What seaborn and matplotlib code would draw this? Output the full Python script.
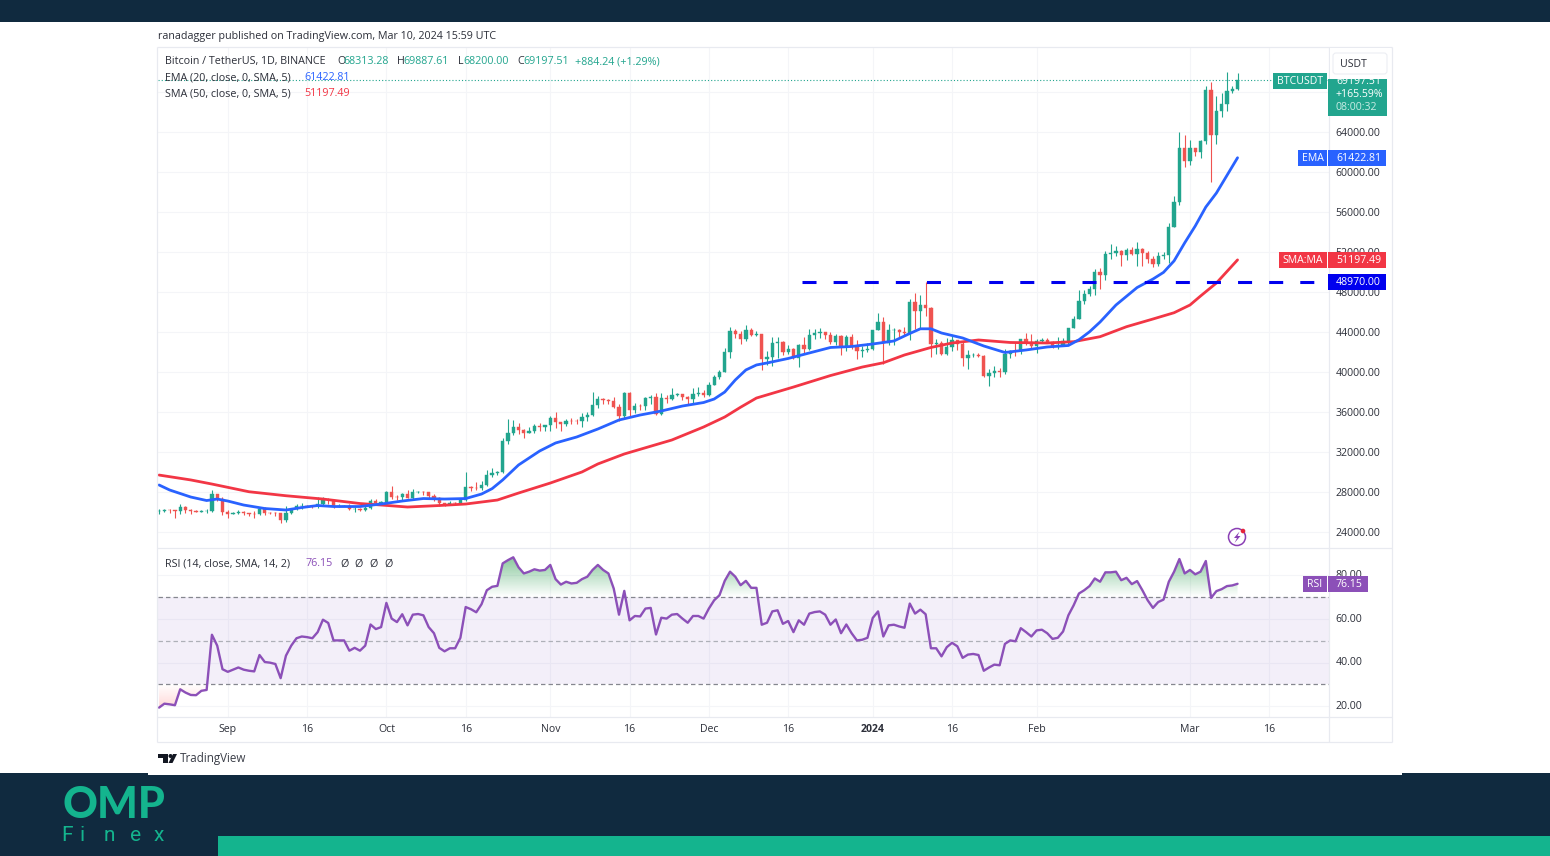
import numpy as np
import pandas as pd
import seaborn as sns
import matplotlib.pyplot as plt
from matplotlib.patches import Rectangle, Circle, Polygon, FancyBboxPatch
from matplotlib.path import Path
from matplotlib.transforms import ScaledTranslation

# daily candles, Aug 19 2023 to Mar 10 2024. day 0 is Sep 1
days = list(range(-13, 192))

opens = [
    26048, 26096, 26189, 26124, 26040, 26431, 26163, 26049, 26004, 26089, 26106, 27727, 27301,
    25940, 25805, 25869, 25971, 25826, 25792, 25759, 26255, 25910, 25901, 25841, 25162, 25840, 26228, 26539,
    26608, 26568, 26530, 26754, 27211, 27133, 26567, 26579, 26579, 26256, 26298, 26207, 26352, 27021, 26906,
    26962, 27983, 27494, 27426, 27778, 27412, 27931, 27956, 27917, 27590, 27390, 26875, 26756, 26862, 26852,
    27154, 28500, 28395, 28320, 28713, 29674, 29909, 29992, 33086, 33901, 34502, 34156, 33909, 34089, 34538,
    34484, 34639, 35421, 34938, 34732, 35082, 35048, 35037, 35443, 35655, 36693, 37313, 37138, 37054, 36502,
    35537, 37880, 36154, 36596, 36568, 37359, 37448, 35741, 37408, 37294, 37713, 37780, 37447, 37242, 37818,
    37854, 37712, 38688, 39476, 39978, 41980, 44080, 43769, 43292, 44170, 43713, 43789, 41253, 41492, 42869,
    43022, 41941, 42278, 41374, 42657, 42275, 43668, 43861, 43970, 43703, 43016, 43613, 42520, 43442, 42581,
    42066, 42140, 42283, 44179, 44946, 42845, 44151, 44162, 43958, 43929, 46951, 46110, 46653, 46339, 42782,
    42847, 41732, 42511, 43137, 42776, 41327, 41659, 41696, 41580, 39568, 39897, 40084, 39961, 41816, 42120,
    42031, 43302, 42941, 42580, 43082, 43200, 43011, 42582, 42708, 43098, 44349, 45288, 47132, 47751, 48293,
    49958, 49699, 51795, 51913, 52126, 51646, 52138, 51765, 52258, 51849, 51288, 50744, 51568, 51729, 54476,
    57037, 62432, 61130, 62387, 61987, 63113, 68245, 63724, 66074, 66823, 68124, 68313,
]
closes = [
    26096, 26189, 26124, 26040, 26431, 26163, 26049, 26004, 26089, 26106, 27727, 27301, 25940,
    25805, 25869, 25971, 25826, 25792, 25759, 26255, 25910, 25901, 25841, 25162, 25840, 26228, 26539, 26608,
    26568, 26530, 26754, 27211, 27133, 26567, 26579, 26579, 26256, 26298, 26207, 26352, 27021, 26906, 26962,
    27983, 27494, 27426, 27778, 27412, 27931, 27956, 27917, 27590, 27390, 26875, 26756, 26862, 26852, 27154,
    28500, 28395, 28320, 28713, 29674, 29909, 29992, 33086, 33901, 34502, 34156, 33909, 34089, 34538, 34484,
    34639, 35421, 34938, 34732, 35082, 35048, 35037, 35443, 35655, 36693, 37313, 37138, 37054, 36502, 35537,
    37880, 36154, 36596, 36568, 37359, 37448, 35741, 37408, 37294, 37713, 37780, 37447, 37242, 37818, 37854,
    37712, 38688, 39476, 39978, 41980, 44080, 43769, 43292, 44170, 43713, 43789, 41253, 41492, 42869, 43022,
    41941, 42278, 41374, 42657, 42275, 43668, 43861, 43970, 43703, 43016, 43613, 42520, 43442, 42581, 42066,
    42140, 42283, 44179, 44946, 42845, 44151, 44162, 43958, 43929, 46951, 46110, 46653, 46339, 42782, 42847,
    41732, 42511, 43137, 42776, 41327, 41659, 41696, 41580, 39568, 39897, 40084, 39961, 41816, 42120, 42031,
    43302, 42941, 42580, 43082, 43200, 43011, 42582, 42708, 43098, 44349, 45288, 47132, 47751, 48293, 49958,
    49699, 51795, 51913, 52126, 51646, 52138, 51765, 52258, 51849, 51288, 50744, 51568, 51729, 54476, 57037,
    62432, 61130, 62387, 61987, 63113, 68245, 63724, 66074, 66823, 68124, 68313, 69197,
]
highs = [
    26261, 26290, 26260, 26140, 26800, 26560, 26300, 26120, 26170, 26230, 28150, 27580, 27480,
    26130, 25990, 26130, 26090, 25870, 26030, 26450, 26430, 25950, 25980, 25900, 26540, 26400, 26800, 26850,
    26660, 26620, 27450, 27480, 27380, 27170, 26740, 26620, 26730, 26430, 26380, 26800, 27290, 27230, 27090,
    28050, 28580, 27670, 27830, 28120, 28290, 28050, 28110, 28000, 27730, 27480, 26830, 27100, 26980, 27290,
    30000, 28610, 28980, 29100, 30200, 30350, 30100, 33400, 35280, 35130, 34840, 34240, 34480, 34770, 34850,
    34720, 35580, 35980, 34940, 35260, 35380, 35290, 35900, 35980, 37970, 37530, 37400, 37230, 37430, 36770,
    38000, 37970, 36850, 36800, 37500, 37650, 37850, 37860, 37650, 38420, 37890, 37820, 37560, 38400, 38450,
    38150, 38990, 39700, 40200, 42420, 44490, 44300, 44050, 44700, 44370, 44050, 43800, 42100, 43430, 43450,
    43090, 42720, 42420, 42750, 43500, 44280, 44240, 44400, 44020, 43950, 43790, 43640, 43680, 43800, 43130,
    42600, 42900, 44190, 45880, 45500, 44750, 44350, 44230, 44490, 47250, 47890, 47700, 48970, 46500, 43250,
    43100, 43400, 43580, 43200, 42930, 42200, 41880, 41880, 41680, 40280, 40550, 40350, 42250, 42200, 42850,
    43300, 43880, 43750, 43300, 43420, 43380, 43120, 43500, 43400, 44380, 45600, 48200, 48170, 48590, 50330,
    50360, 52040, 52820, 52570, 52190, 52350, 52480, 52980, 52370, 52090, 51550, 51980, 51960, 54880, 57580,
    64030, 63700, 63230, 62430, 63230, 68600, 69000, 67630, 67870, 69980, 68600, 69888,
]
lows = [
    25800, 26000, 25880, 25350, 25800, 25860, 25780, 25970, 25980, 25880, 25950, 27020, 25660,
    25330, 25760, 25800, 25630, 25570, 25400, 25620, 25650, 25800, 25550, 24900, 24930, 25750, 26120, 26220,
    26460, 26380, 26380, 26670, 26800, 26350, 26470, 26520, 26120, 25990, 26090, 26100, 26300, 26700, 26890,
    26950, 27300, 27180, 27200, 27350, 27180, 27860, 27680, 27280, 27100, 26530, 26550, 26700, 26800, 26800,
    27110, 28090, 28130, 28170, 28600, 29480, 29670, 29900, 32800, 33700, 33750, 33400, 33830, 33900, 34050,
    34060, 34100, 34350, 34100, 34570, 34740, 34730, 34500, 35100, 35530, 36330, 36730, 36740, 36330, 35100,
    35370, 35500, 35880, 36200, 36200, 36730, 35630, 35700, 36870, 37200, 37600, 37150, 36750, 36900, 37600,
    37500, 37600, 38650, 39300, 39960, 41410, 43330, 42820, 43080, 43580, 43570, 40220, 40680, 40600, 41420,
    41660, 41790, 41250, 40500, 41800, 42200, 43300, 43400, 43300, 42750, 42720, 41630, 42100, 42300, 41300,
    41500, 41960, 42200, 44150, 40750, 42630, 42650, 43400, 43600, 43200, 44300, 44300, 45600, 41500, 41800,
    41700, 41700, 42050, 42200, 40600, 40280, 41500, 41500, 39450, 38560, 39480, 39450, 39800, 41400, 41600,
    41800, 42700, 42300, 41880, 42880, 42880, 42350, 42260, 42570, 42750, 44330, 45240, 46800, 47540, 47700,
    48300, 49220, 51310, 51570, 50620, 51160, 51720, 50620, 50620, 50880, 50520, 50550, 51280, 50900, 54450,
    56700, 60530, 60730, 61600, 61400, 62790, 58960, 62770, 65530, 66100, 67900, 68200,
]

ema_days = [-13, -11, -7, -4, -2, 0, 3, 7, 11, 14, 17, 20, 25, 29, 33, 37, 41, 45, 48, 50, 52, 55, 59, 62, 66, 70,
            74, 78, 82, 86, 90, 92, 94, 96, 98, 100, 102, 106, 110, 114, 118, 122, 126, 129, 131, 133, 135, 139,
            143, 147, 151, 155, 159, 161, 163, 165, 168, 172, 175, 177, 179, 181, 183, 185, 187, 191]
ema_values = [28665, 28165, 27460, 27110, 27260, 27060, 26660, 26310, 26160, 26410, 26610, 26510, 26510, 26760,
              27060, 27310, 27260, 27310, 27760, 28300, 29170, 30670, 32070, 32870, 33470, 34270, 35170, 35670,
              36070, 36570, 36920, 37270, 37970, 39180, 40180, 40680, 40880, 41330, 41880, 42430, 42530, 42780,
              43080, 43830, 44300, 44300, 43880, 43380, 42580, 41930, 42180, 42480, 42630, 43200, 44000, 44980,
              46680, 48430, 49280, 49950, 51100, 52900, 54590, 56490, 57890, 61422]

sma_days = [-13, -7, -3, 4, 11, 18, 25, 29, 34, 40, 45, 51, 55, 61, 67, 70, 75, 84, 90, 94, 97, 100, 107, 114, 120,
            124, 128, 133, 137, 142, 148, 155, 160, 165, 170, 175, 179, 182, 184, 187, 191]
sma_values = [29660, 29170, 28760, 27990, 27590, 27260, 26810, 26660, 26460, 26610, 26760, 27160, 27860, 28860,
              29970, 30770, 31770, 33170, 34470, 35470, 36450, 37370, 38470, 39620, 40470, 40900, 41680, 42430,
              42880, 43180, 42930, 42880, 43010, 43510, 44510, 45280, 45910, 46680, 47580, 48880, 51197]

rsi_values = [
    19.4, 21.2, 20.9, 20.5, 27.8, 26.3, 25.2, 25.1, 27.1, 27.5, 52.8, 47.8, 37.0,
    35.8, 36.8, 37.8, 36.8, 36.3, 36.0, 43.5, 40.3, 40.0, 39.4, 32.9, 43.2, 47.8, 51.2, 52.0,
    51.7, 51.2, 54.0, 59.7, 58.2, 50.2, 50.2, 50.2, 45.5, 46.8, 45.5, 47.8, 57.5, 55.4, 56.3,
    67.4, 60.2, 58.6, 62.2, 57.1, 62.0, 62.3, 61.7, 56.3, 53.5, 46.8, 45.2, 46.6, 46.6, 51.4,
    65.5, 64.5, 63.1, 66.8, 73.2, 74.8, 75.2, 85.5, 87.0, 88.3, 83.7, 80.9, 81.7, 82.8, 82.2,
    82.5, 84.8, 78.3, 75.8, 77.1, 76.3, 76.6, 78.3, 79.4, 82.5, 84.8, 82.5, 80.9, 74.0, 62.0,
    72.9, 59.4, 61.4, 61.2, 64.8, 65.1, 52.9, 60.6, 60.2, 62.0, 62.3, 60.2, 58.3, 61.4, 61.4,
    60.2, 64.8, 68.6, 70.9, 77.5, 81.7, 79.4, 75.5, 77.5, 74.3, 74.3, 57.4, 58.3, 63.5, 64.0,
    57.8, 59.1, 54.0, 59.4, 57.4, 62.5, 63.2, 63.5, 62.0, 57.4, 59.8, 53.5, 57.5, 53.5, 50.2,
    50.5, 51.4, 60.5, 63.5, 52.0, 57.1, 57.4, 56.6, 56.0, 67.1, 62.5, 64.3, 62.2, 46.6, 46.6,
    42.9, 47.1, 49.1, 47.5, 42.2, 43.7, 44.0, 43.5, 36.3, 37.8, 39.1, 38.8, 48.6, 50.2, 49.8,
    55.8, 54.0, 52.0, 54.8, 55.1, 53.5, 50.9, 51.4, 54.3, 61.7, 66.3, 71.7, 73.2, 75.1, 78.6,
    77.1, 81.4, 81.4, 81.7, 77.8, 78.9, 76.0, 77.4, 73.2, 68.6, 65.1, 67.8, 68.9, 77.1, 81.7,
    87.5, 80.9, 82.5, 80.5, 81.7, 86.6, 69.7, 72.8, 73.7, 75.1, 75.4, 76.15,
]

time_ticks = [0, 15, 30, 45, 61, 76, 91, 106, 122, 137, 153, 182, 197]
time_labels = ['Sep', '16', 'Oct', '16', 'Nov', '16', 'Dec', '16', '2024', '16', 'Feb', 'Mar', '16']
price_ticks = [24000, 28000, 32000, 36000, 40000, 44000, 48000, 52000, 56000, 60000, 64000, 68000]
rsi_ticks = [20, 40, 60, 80]
resistance_level = 48970
resistance_start = 108.7
last_ema = 61422.81
last_sma = 51197.49
last_close = 69197.51
last_rsi = 76.15

NAVY = '#102a3f'
TEAL = '#14b48e'
UP = '#22a58e'
DOWN = '#ef5350'
BLUE = '#2962ff'
RED = '#f23645'
PURPLE = '#8c50b8'
TEXT = '#2c2f39'
GRID = '#f4f5f8'
FRAME = '#e8eaf0'
W, H = 1550, 856

sns.set_theme(style='white', rc={'lines.scale_dashes': False})
plt.rcParams['font.family'] = ['Open Sans', 'DejaVu Sans']


def px_axes(fig, left, top, right, bottom, **kw):
    return fig.add_axes([left / W, 1 - bottom / H, (right - left) / W, (bottom - top) / H], **kw)


def gradient_fill(ax, x, y, level, far, color, alpha):
    # fill between the level and the line, fading to nothing at the level
    y = np.array(y, dtype=float)
    where = y >= level if far > level else y <= level
    poly = ax.fill_between(x, level, y, where=where, interpolate=True, facecolor='none', linewidth=0)
    rgba = np.zeros((64, 2, 4))
    rgba[..., :3] = plt.matplotlib.colors.to_rgb(color)
    rgba[..., 3] = np.linspace(0, alpha, 64)[:, None]
    im = ax.imshow(rgba, extent=[x[0], x[-1], level, far], origin='lower', aspect='auto', zorder=1.5)
    im.set_clip_path(Path.make_compound_path(*poly.get_paths()), ax.transData)


def nudge_labels(labels, dy_px):
    # move tick labels up by some pixels
    shift = ScaledTranslation(0, dy_px / 100, fig.dpi_scale_trans)
    for t in labels:
        t.set_transform(t.get_transform() + shift)


df = pd.DataFrame({'day': days, 'open': opens, 'high': highs, 'low': lows, 'close': closes, 'rsi': rsi_values})
df['color'] = np.where(df['close'] >= df['open'], UP, DOWN)

fig = plt.figure(figsize=(W / 100, H / 100), dpi=100, facecolor='white')

# page background
bg = px_axes(fig, 0, 0, W, H, zorder=0)
bg.set_xlim(0, W)
bg.set_ylim(H, 0)
bg.axis('off')
bg.add_patch(Rectangle((0, 0), W, 22, color=NAVY, lw=0))
bg.add_patch(Rectangle((0, 773), W, 83, color=NAVY, lw=0))
bg.add_patch(Rectangle((148, 773), 1254, 2, color='white', lw=0))
bg.add_patch(Rectangle((218, 836), W - 218, 20, color=TEAL, lw=0))

# price pane
ax = px_axes(fig, 158, 48, 1329, 548, zorder=1)
ax.patch.set_alpha(0)
ax.vlines(df['day'], df['low'], df['high'], colors=df['color'], linewidth=0.8, zorder=2)
ax.bar(df['day'], (df['close'] - df['open']).abs(), bottom=df[['open', 'close']].min(axis=1), width=0.62,
       color=df['color'], edgecolor=df['color'], linewidth=0.3, zorder=2.1)
sns.lineplot(x=sma_days, y=sma_values, color=RED, linewidth=2.0, ax=ax, zorder=3)
sns.lineplot(x=ema_days, y=ema_values, color=BLUE, linewidth=2.0, ax=ax, zorder=3.1)
ax.plot([resistance_start, 208.3], [resistance_level, resistance_level], color='#0000ee', linewidth=2.2,
        dashes=(10.1, 12.3), dash_capstyle='butt', zorder=3.2)
ax.axhline(last_close, color=UP, linewidth=0.8, dashes=(0.8, 1.5), zorder=1.8)
ax.set_xlim(-13.2, 208.3)
ax.set_ylim(22358, 72408)
ax.set_xticks(time_ticks)
ax.set_xticklabels([])
ax.set_yticks(price_ticks)
ax.set_yticklabels([f'{v:.2f}' for v in price_ticks])
ax.yaxis.tick_right()
ax.tick_params(axis='both', length=0, labelsize=7.6, labelcolor=TEXT, pad=4.8)
ax.grid(True, color=GRID, linewidth=0.8)
ax.set_axisbelow(True)
ax.set_xlabel('')
ax.set_ylabel('')
for s in ax.spines.values():
    s.set_visible(False)

# rsi pane
rx = px_axes(fig, 158, 549, 1329, 717, zorder=1)
rx.patch.set_alpha(0)
rx.axhspan(30, 70, color='#7e57c2', alpha=0.09, linewidth=0, zorder=1)
gradient_fill(rx, days, rsi_values, 70, 90, '#2e9e50', 0.62)
gradient_fill(rx, days, rsi_values, 30, 15, '#ff5252', 0.32)
for level, shade in [(70, '#85878f'), (50, '#aeb0b8'), (30, '#85878f')]:
    rx.axhline(level, color=shade, linewidth=0.9, dashes=(3.2, 2.2), zorder=1.8)
sns.lineplot(x=days, y=rsi_values, color=PURPLE, linewidth=1.7, ax=rx, zorder=3)
rx.set_xlim(-13.2, 208.3)
rx.set_ylim(15.1, 92.1)
rx.set_xticks(time_ticks)
rx.set_xticklabels(time_labels)
rx.get_xticklabels()[8].set_fontweight('bold')
rx.set_yticks(rsi_ticks)
rx.set_yticklabels([f'{v:.2f}' for v in rsi_ticks])
rx.yaxis.tick_right()
rx.tick_params(axis='both', length=0, labelsize=7.6, labelcolor=TEXT)
rx.tick_params(axis='y', pad=4.8)
rx.tick_params(axis='x', pad=5.3)
nudge_labels(rx.get_yticklabels(), 1.3)
rx.grid(True, color=GRID, linewidth=0.8)
rx.set_axisbelow(True)
rx.set_xlabel('')
rx.set_ylabel('')
for s in rx.spines.values():
    s.set_visible(False)

# everything on top, in page pixels
fg = px_axes(fig, 0, 0, W, H, zorder=3)
fg.set_xlim(0, W)
fg.set_ylim(H, 0)
fg.axis('off')
fg.patch.set_alpha(0)


def label(x, y, s, color=TEXT, size=7.75, **kw):
    kw.setdefault('va', 'center')
    fg.text(x, y + 0.8, s, color=color, fontsize=size, **kw)


def y_px(pane, value):
    return fg.transData.inverted().transform(pane.transData.transform((0, value)))[1]


def tag(pane, value, name, name_left, right, color, text_x):
    y = y_px(pane, value)
    fg.add_patch(Rectangle((1328, y - 8), right - 1328, 16, color=color, lw=0))
    label(text_x, y, f'{value:.2f}', 'white', size=7.6)
    if name:
        fg.add_patch(Rectangle((name_left, y - 8), 1327 - name_left, 16, color=color, lw=0))
        label((name_left + 1327) / 2, y, name, 'white', size=7.6, ha='center')


# frame
for x0, y0, x1, y1 in [(157, 47, 1392, 47), (157, 742, 1392, 742), (157, 47, 157, 742), (1392, 47, 1392, 742),
                       (1329, 47, 1329, 742), (157, 548, 1392, 548), (157, 717, 1392, 717)]:
    fg.plot([x0, x1], [y0, y1], color=FRAME, linewidth=0.9, solid_capstyle='butt', zorder=1)

# legend text
label(158, 35.5, 'ranadagger published on TradingView.com, Mar 10, 2024 15:59 UTC')
label(165, 61, 'Bitcoin / TetherUS, 1D, BINANCE')
for x, head, value in [(337, 'O', '68313.28'), (397, 'H', '69887.61'), (458, 'L', '68200.00'), (517, 'C', '69197.51')]:
    label(x, 61, head)
    label(x + (6.5 if head != 'L' else 5.5), 61, value, UP)
label(575, 61, '+884.24 (+1.29%)', UP)
label(165, 77, 'EMA (20, close, 0, SMA, 5)')
label(304, 77, f'{last_ema:.2f}', BLUE)
label(165, 93, 'SMA (50, close, 0, SMA, 5)')
label(304, 93, f'{last_sma:.2f}', RED)
label(165, 563, 'RSI (14, close, SMA, 14, 2)')
label(305, 563, f'{last_rsi:.2f}', PURPLE)
for x in [340, 354, 369, 384]:
    label(x, 563, '\u00d8')

# last price block and USDT button
fg.add_patch(Rectangle((1273, 73), 54, 16, color=UP, lw=0))
label(1300, 81, 'BTCUSDT', 'white', size=7.6, ha='center')
fg.add_patch(Rectangle((1328, 79), 59, 36.5, color=UP, lw=0))
label(1336, 81, f'{last_close:.2f}', 'white', size=7.6)
label(1383, 94, '+165.59%', 'white', size=7.6, ha='right')
label(1336, 107, '08:00:32', '#c9ece5', size=7.6)
fg.add_patch(Rectangle((1330, 48), 61, 31, color='white', lw=0, zorder=3))
fg.add_patch(FancyBboxPatch((1333, 53), 54, 21, boxstyle='round,pad=0,rounding_size=3',
                            facecolor='white', edgecolor='#eceef3', linewidth=0.8, zorder=3))
label(1340, 64, 'USDT', size=7.6, zorder=4)

tag(ax, last_ema, 'EMA', 1298, 1386, BLUE, 1336)
tag(ax, last_sma, 'SMA:MA', 1279, 1386, RED, 1336)
tag(ax, resistance_level, '', 0, 1386, '#0000ee', 1336)
tag(rx, last_rsi, 'RSI', 1303, 1368, PURPLE, 1336)

# lightning badge
fg.add_patch(Circle((1237, 537), 8.5, facecolor='white', edgecolor='#8a3fb5', linewidth=1.1))
fg.add_patch(Polygon([(1239.5, 531.5), (1234, 538), (1237, 538), (1234.5, 543), (1240.5, 536), (1237.5, 536)],
                     closed=True, color='#8a3fb5', lw=0))
fg.add_patch(Circle((1243, 531), 2.3, color='#e5243b', lw=0))

# tradingview mark
fg.add_patch(Polygon([(158, 754), (168, 754), (168, 763), (163, 763), (163, 758), (158, 758)], closed=True,
                     color='#131722', lw=0))
fg.add_patch(Circle((170.5, 756), 2, color='#131722', lw=0))
fg.add_patch(Polygon([(173, 754), (177, 754), (172.5, 763), (168.5, 763)], closed=True, color='#131722', lw=0))
label(180, 758, 'TradingView', '#3b3e48', size=8.4)

# site logo
fg.text(113.5, 805.5, 'OMP', color=TEAL, fontsize=31, fontweight='black', family='Lato', ha='center', va='center')
for x, ch in zip([67, 82, 109, 136, 159], 'Finex'):
    fg.text(x, 835.5, ch, color=TEAL, fontsize=15, family='Roboto', ha='center', va='center')

fig.savefig('out.png', dpi=100)
